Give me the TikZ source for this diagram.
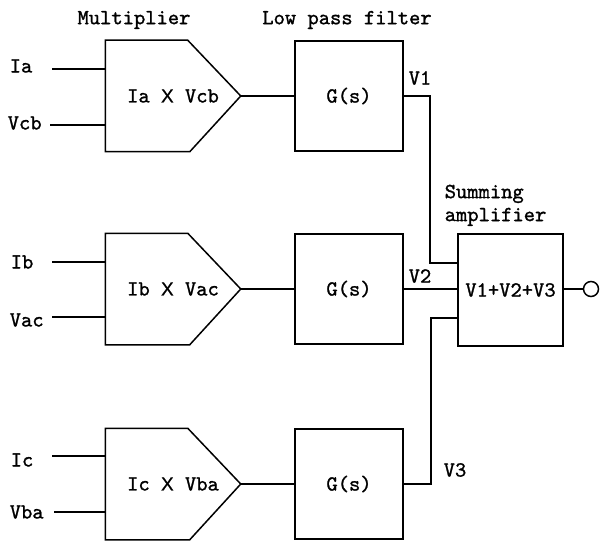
\documentclass[tikz,border=0pt]{standalone}
\usepackage{fontspec}
\setmonofont{lmmono10-regular.otf}[FakeBold=1.2]
\newfontfamily\crossfont{Liberation Sans}[FakeBold=0.6]
\usepackage{tikz}
\usetikzlibrary{positioning,calc}

\newcommand{\crs}{{\crossfont\fontsize{19}{19}\selectfont X}}

\begin{document}
\begin{tikzpicture}[
    x=1pt, y=-1pt,
    line width=1.5pt,
    font=\ttfamily\fontsize{21.5}{23}\selectfont,
    mult/.style={rectangle, minimum width=134pt, minimum height=110pt, inner sep=0pt},
    filt/.style={rectangle, draw, minimum width=108pt, minimum height=110pt},
    sumbox/.style={rectangle, draw, minimum width=105pt, minimum height=112pt},
    lbl/.style={inner sep=0pt}
]
\useasboundingbox (0,0) rectangle (601,545);

% titles
\node[lbl] (tmult) at (134,20) {Multiplier};
\node[lbl] (tfilt) at (347,20) {Low pass filter};
\node[lbl, anchor=north west, align=left] (tsum) at (444,184) {Summing\\amplifier};

% multipliers
\node[mult] (m1) at (173,96) {Ia \crs{} Vcb};
\node[mult] (m2) at (173,289) {Ib \crs{} Vac};
\node[mult] (m3) at (173,484) {Ic \crs{} Vba};
\draw (m1.north west) -- ([xshift=-53pt]m1.north east) -- (m1.east) -- ([xshift=-51pt]m1.south east) -- (m1.south west) -- cycle;
\draw (m2.north west) -- ([xshift=-53pt]m2.north east) -- (m2.east) -- ([xshift=-51pt]m2.south east) -- (m2.south west) -- cycle;
\draw (m3.north west) -- ([xshift=-53pt]m3.north east) -- (m3.east) -- ([xshift=-51pt]m3.south east) -- (m3.south west) -- cycle;

% low pass filters
\node[filt] (g1) at (349,96) {G(s)};
\node[filt] (g2) at (349,289) {G(s)};
\node[filt] (g3) at (349,484) {G(s)};

% summing amplifier
\node[sumbox] (sum) at (510.5,290) {V1+V2+V3};
\node[circle, draw, minimum size=15pt, inner sep=0pt] (out) at (591,289) {};

% inputs
\coordinate (ia) at (52,69);
\coordinate (vcb) at (50,125);
\coordinate (ib) at (52,262);
\coordinate (vac) at (52,317);
\coordinate (ic) at (52,456);
\coordinate (vba) at (54,512);
\node[lbl, anchor=west] (lia) at (9,66) {Ia};
\node[lbl, anchor=west] (lvcb) at (7,123) {Vcb};
\node[lbl, anchor=west] (lib) at (10,262) {Ib};
\node[lbl, anchor=west] (lvac) at (9,320) {Vac};
\node[lbl, anchor=west] (lic) at (10,460) {Ic};
\node[lbl, anchor=west] (lvba) at (9,512) {Vba};
\draw (ia) -- (ia -| m1.west);
\draw (vcb) -- (vcb -| m1.west);
\draw (ib) -- (ib -| m2.west);
\draw (vac) -- (vac -| m2.west);
\draw (ic) -- (ic -| m3.west);
\draw (vba) -- (vba -| m3.west);

% multiplier to filter
\draw (m1.east) -- (g1.west);
\draw (m2.east) -- (g2.west);
\draw (m3.east) -- (g3.west);

% filters to summing amplifier
\coordinate (j1) at (430,263);
\coordinate (j3) at (431,318);
\draw (g1.east) -| (j1) -- (j1 -| sum.west);
\draw (g2.east) -- (g2.east -| sum.west);
\draw (g3.east) -| (j3) -- (j3 -| sum.west);
\node[lbl] (lv1) at (420,78) {V1};
\node[lbl] (lv2) at (420,276) {V2};
\node[lbl] (lv3) at (455,470) {V3};

% output
\draw (out -| sum.east) -- (out);

\end{tikzpicture}
\end{document}
